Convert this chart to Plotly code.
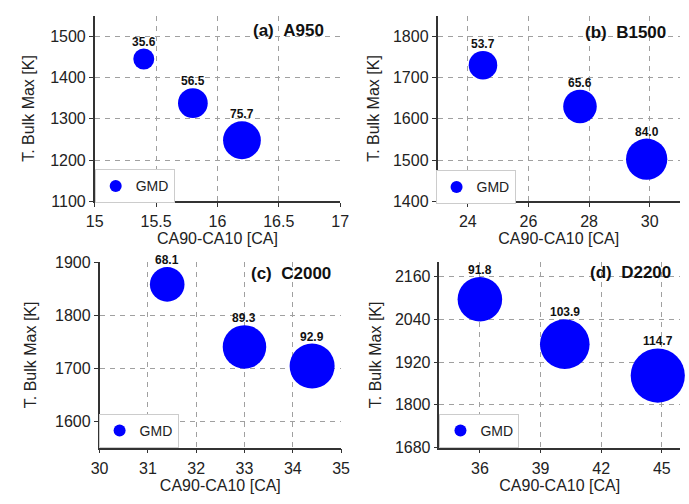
import plotly.graph_objects as go

# ---- data ----
ca_a = [15.4, 15.8, 16.2]
tb_a = [1445, 1338, 1248]
gmd_a = [35.6, 56.5, 75.7]

ca_b = [24.5, 27.7, 29.9]
tb_b = [1730, 1630, 1502]
gmd_b = [53.7, 65.6, 84.0]

ca_c = [31.4, 33.0, 34.4]
tb_c = [1858, 1740, 1704]
gmd_c = [68.1, 89.3, 92.9]

ca_d = [36.0, 40.2, 44.8]
tb_d = [2096, 1970, 1882]
gmd_d = [91.8, 103.9, 114.7]

panel_titles = ["(a)\u00a0\u00a0A950", "(b)\u00a0\u00a0B1500", "(c)\u00a0\u00a0C2000", "(d)\u00a0\u00a0D2200"]

FONT = "Liberation Sans, Arial, sans-serif"
W, H = 689, 504

def px_x(p):
    return p / W

def px_y(p):
    return 1 - p / H

def diam(g):
    # bubble diameter (px) grows with GMD
    return 6 + 0.42 * g

panels = [
    dict(ca=ca_a, tb=tb_a, g=gmd_a, xd=[88, 340], yd=[8, 200], xr=[15, 17], yr=[1100, 1550], dx=0.5, dy=100, tick0x=15, tick0y=0, ys=12),
    dict(ca=ca_b, tb=tb_b, g=gmd_b, xd=[440, 689], yd=[8, 200], xr=[23, 31], yr=[1400, 1850], dx=2, dy=100, tick0x=0, tick0y=0, ys=9),
    dict(ca=ca_c, tb=tb_c, g=gmd_c, xd=[93, 341], yd=[263, 455], xr=[30, 35], yr=[1550, 1900], dx=1, dy=100, tick0x=0, tick0y=0, ys=14),
    dict(ca=ca_d, tb=tb_d, g=gmd_d, xd=[442, 689], yd=[263, 455], xr=[34, 45.9], yr=[1680, 2200], dx=3, dy=120, tick0x=0, tick0y=0, ys=9),
]

legend_pos = [(88, 167), (438, 168), (92, 420), (442, 420)]
title_pos = [(325, 23), (677, 25), (333, 275), (682, 274)]

fig = go.Figure()
layout = dict(width=W, height=H, margin=dict(l=0, r=0, t=0, b=0),
              paper_bgcolor="white", plot_bgcolor="white",
              font=dict(family=FONT, size=16, color="#222"))
annotations = []

for i, p in enumerate(panels):
    n = "" if i == 0 else str(i + 1)
    leg = "legend" if i == 0 else f"legend{i+1}"
    sizes = [diam(g) for g in p["g"]]
    fig.add_trace(go.Scatter(
        x=p["ca"], y=p["tb"], mode="markers",
        marker=dict(size=sizes, sizemode="diameter", color="#0000ff", line=dict(width=0), opacity=1),
        name="GMD", xaxis="x" + n, yaxis="y" + n, legend=leg, cliponaxis=False,
        showlegend=True,
    ))
    for xv, yv, g in zip(p["ca"], p["tb"], p["g"]):
        annotations.append(dict(
            text=f"<b>{g:.1f}</b>", x=xv, y=yv, xref="x" + n, yref="y" + n,
            xanchor="center", yanchor="bottom", yshift=diam(g) / 2 - 2,
            showarrow=False, font=dict(family=FONT, size=12, color="#111")))
    axcommon = dict(showline=True, linecolor="#333", linewidth=1.5, mirror=False,
                    ticks="outside", ticklen=4, tickwidth=1, tickcolor="#333",
                    showgrid=True, gridcolor="#a0a0a0", gridwidth=1.2, griddash="5px,5px",
                    zeroline=False, tickfont=dict(family=FONT, size=16, color="#222"))
    layout["xaxis" + n] = dict(axcommon, domain=[px_x(p["xd"][0]), px_x(p["xd"][1])],
                               range=p["xr"], anchor="y" + n, dtick=p["dx"], tick0=p["tick0x"],
                               ticklabelstandoff=1,
                               title=dict(text="CA90-CA10 [CA]", standoff=0,
                                          font=dict(family=FONT, size=16, color="#222")))
    layout["yaxis" + n] = dict(axcommon, domain=[px_y(p["yd"][1]), px_y(p["yd"][0])],
                               range=p["yr"], anchor="x" + n, dtick=p["dy"], tick0=p["tick0y"],
                               title=dict(text="T. Bulk Max [K]", standoff=p["ys"],
                                          font=dict(family=FONT, size=16, color="#222")))
    lx, ly = legend_pos[i]
    layout[leg] = dict(x=px_x(lx), y=px_y(ly), xanchor="left", yanchor="top",
                       bgcolor="white", bordercolor="#cccccc", borderwidth=1,
                       itemsizing="constant", font=dict(family=FONT, size=14, color="#222"),
                       tracegroupgap=0)
    tx, ty = title_pos[i]
    annotations.append(dict(text=f"<b>{panel_titles[i]}</b>", xref="paper", yref="paper",
                            x=px_x(tx), y=px_y(ty), xanchor="right", yanchor="middle",
                            showarrow=False, font=dict(family=FONT, size=17, color="#111")))

layout["annotations"] = annotations
fig.update_layout(**layout)
fig.write_html("out.html")
